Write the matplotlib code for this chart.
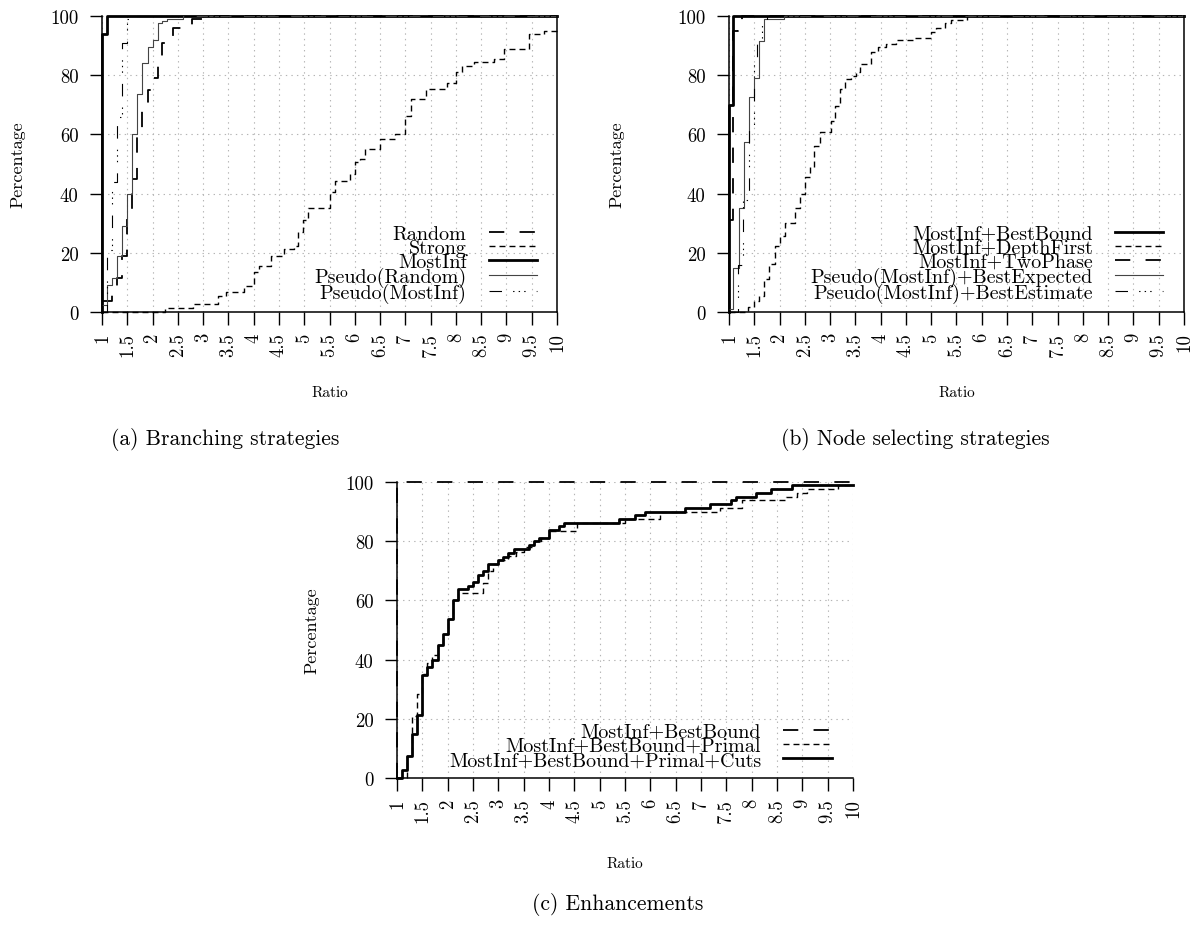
import matplotlib
matplotlib.use('Agg')
import matplotlib.pyplot as plt

plt.rcParams['font.family'] = ['cmr10', 'DejaVu Serif']
plt.rcParams['axes.formatter.use_mathtext'] = True
plt.rcParams['lines.scale_dashes'] = False
plt.rcParams['mathtext.fontset'] = 'cm'

# ---------------- data ----------------
x_ticks = [1, 1.5, 2, 2.5, 3, 3.5, 4, 4.5, 5, 5.5, 6, 6.5, 7, 7.5, 8, 8.5, 9, 9.5, 10]
x_tick_labels = ['1', '1.5', '2', '2.5', '3', '3.5', '4', '4.5', '5', '5.5',
                 '6', '6.5', '7', '7.5', '8', '8.5', '9', '9.5', '10']
y_ticks = [0, 20, 40, 60, 80, 100]
y_tick_labels = ['0', '20', '40', '60', '80', '100']

# (a) Branching strategies
a_random_x = [1.0, 1.19, 1.29, 1.39, 1.5, 1.6, 1.69, 1.79, 1.9, 2.0, 2.1, 2.19, 2.3, 2.4, 2.78, 3.2, 10]
a_random_y = [3.8, 7.5, 11.5, 19, 33, 45, 62, 70, 75, 79, 84, 91, 93, 96, 98.9, 100, 100]
a_strong_x = [1.0, 2.25, 2.8, 3.3, 3.45, 3.8, 4.0, 4.1, 4.35, 4.6, 4.8, 4.88, 4.97, 5.08, 5.5, 5.6,
              5.9, 6.0, 6.1, 6.2, 6.5, 6.8, 7.0, 7.12, 7.4, 7.82, 8.0, 8.12, 8.35, 8.75, 8.95,
              9.45, 9.75, 10]
a_strong_y = [0, 1.2, 2.7, 5.5, 6.6, 8.7, 13.4, 15.6, 19, 21.3, 22.4, 27, 31, 35, 40.4, 44.4,
              46.6, 50.6, 51.8, 55, 58.4, 60.1, 66.3, 72, 75.3, 77.5, 81, 83.2, 84.3, 85.5, 88.9,
              93.9, 95, 95]
a_mostinf_x = [1.0, 1.0, 1.1, 10]
a_mostinf_y = [0, 94, 100, 100]
a_pseudo_rand_x = [1.0, 1.09, 1.19, 1.29, 1.39, 1.5, 1.59, 1.69, 1.79, 1.9, 2.0, 2.1, 2.19, 2.29, 2.6, 10]
a_pseudo_rand_y = [2.5, 9, 11.5, 19, 29, 40, 60, 73.5, 84, 89.5, 92, 97.5, 98.4, 99, 100, 100]
a_pseudo_mi_x = [1.0, 1.09, 1.19, 1.29, 1.39, 1.5, 1.62, 10]
a_pseudo_mi_y = [0, 21, 44, 66, 91, 99, 100, 100]

# (b) Node selecting strategies
b_bestbound_x = [1.0, 1.0, 1.08, 10]
b_bestbound_y = [0, 70, 100, 100]
b_depth_x = [1.0, 1.38, 1.5, 1.6, 1.7, 1.79, 1.9, 2.0, 2.1, 2.3, 2.4, 2.5, 2.6, 2.69, 2.8, 3.02,
             3.1, 3.19, 3.29, 3.42, 3.52, 3.6, 3.8, 3.95, 4.1, 4.3, 4.65, 5.0, 5.1, 5.27, 5.4,
             5.7, 10]
b_depth_y = [0, 1.6, 3.8, 5.4, 11, 16.2, 22.4, 25.8, 30, 35, 40, 45.5, 48.9, 56, 60.7, 64.6,
             69.7, 75.3, 78.7, 79.8, 81.2, 83.8, 87.7, 89.4, 90.5, 91.9, 92.7, 94.5, 96, 97.6,
             98.8, 100, 100]
b_twophase_x = [1.0, 1.08, 1.18, 1.25, 10]
b_twophase_y = [31, 95, 98, 100, 100]
b_expected_x = [1.0, 1.08, 1.19, 1.29, 1.39, 1.49, 1.59, 1.69, 2.09, 10]
b_expected_y = [1, 15, 35, 57.5, 72.5, 79, 91.5, 99, 100, 100]
b_estimate_x = [1.0, 1.18, 1.28, 1.39, 1.49, 1.55, 1.65, 1.76, 10]
b_estimate_y = [0, 16, 38, 62, 84, 92, 97, 100, 100]

# (c) Enhancements
c_bb_x = [1.0, 1.0, 10]
c_bb_y = [0, 100, 100]
c_primal_x = [1.0, 1.2, 1.29, 1.39, 1.5, 1.6, 1.7, 1.8, 1.9, 2.0, 2.1, 2.2, 2.7, 2.8, 2.9, 3.0,
              3.2, 3.35, 3.5, 3.7, 3.85, 4.0, 4.55, 5.5, 5.85, 6.2, 7.38, 7.8, 8.67, 8.9, 9.1,
              9.7, 10]
c_primal_y = [0, 7.6, 21, 28.5, 35, 39, 41.5, 45, 48.8, 53.8, 60, 62.5, 66, 70, 72.4, 73.5,
              75, 76.5, 78, 80, 81.2, 83.4, 86.2, 87.4, 87.6, 90, 91.2, 93.8, 94.9, 96.3, 97.5,
              99, 99]
c_cuts_x = [1.0, 1.1, 1.2, 1.29, 1.39, 1.5, 1.6, 1.7, 1.8, 1.9, 2.0, 2.1, 2.2, 2.4, 2.5, 2.6,
            2.7, 2.8, 3.0, 3.1, 3.2, 3.3, 3.6, 3.7, 3.8, 4.0, 4.2, 4.3, 5.39, 5.7, 5.9, 6.69,
            7.18, 7.59, 7.69, 8.09, 8.38, 8.79, 10]
c_cuts_y = [0, 2.6, 7.6, 15, 21.2, 34.9, 37.5, 40, 45, 48.8, 53.8, 60, 64, 65, 66.2, 68.7,
            70.1, 72.4, 73.5, 74.7, 76.1, 77.5, 78.6, 80.1, 81.2, 83.7, 85.1, 86.2, 87.4, 88.7,
            89.9, 91.2, 92.7, 93.8, 94.9, 96.4, 97.5, 98.9, 98.9]

# ---------------- styles ----------------
LONG = (0, (11, 11))
SHORT = (0, (4.3, 2.9))
DASHDOT = (0, (9, 8, 1, 3, 1, 3, 1, 8))
THICK = 2.0
MED = 1.3
THIN = 0.8
GREY = '#444444'

TICK_FS = 13.5
LEG_FS = 14.5
YLAB_FS = 13
XLAB_FS = 11
CAP_FS = 15.5

W, H = 1191, 928
fig = plt.figure(figsize=(W / 100, H / 100), dpi=100)


def make_axes(left, top, right, bottom, right_spine=True):
    ax = fig.add_axes([left / W, 1 - bottom / H, (right - left) / W, (bottom - top) / H])
    ax.set_xlim(1, 10)
    ax.set_ylim(0, 100)
    ax.set_xticks(x_ticks)
    ax.set_xticklabels(x_tick_labels, rotation=90, fontsize=TICK_FS)
    ax.set_yticks(y_ticks)
    ax.set_yticklabels(y_tick_labels, fontsize=TICK_FS)
    ax.tick_params(direction='out', length=9, width=1.0)
    ax.tick_params(axis='x', pad=5.5)
    ax.tick_params(axis='y', pad=8)
    ax.grid(True, color='#b5b5b5', linestyle=(0, (1, 3)), linewidth=0.8)
    ax.set_axisbelow(True)
    ax.spines['top'].set_visible(False)
    ax.spines['right'].set_visible(right_spine)
    for s in ax.spines.values():
        s.set_linewidth(1.1)
    ax.set_xlabel('Ratio', fontsize=XLAB_FS)
    ax.set_ylabel('Percentage', fontsize=YLAB_FS)
    return ax


def step(ax, x, y, label, ls, lw, color='black'):
    ax.step(x, y, where='post', linestyle=ls, linewidth=lw, color=color,
            label=label, clip_on=False)


def legend(ax, ax_x, ax_y):
    ax.legend(loc='lower right', bbox_to_anchor=(ax_x, ax_y), frameon=False,
              markerfirst=False, fontsize=LEG_FS, handlelength=2.4,
              handletextpad=1.1, labelspacing=-0.2, borderpad=0, borderaxespad=0)


# (a)
axa = make_axes(102, 17, 557, 313)
step(axa, a_random_x, a_random_y, 'Random', LONG, MED)
step(axa, a_strong_x, a_strong_y, 'Strong', SHORT, 1.0)
step(axa, a_mostinf_x, a_mostinf_y, 'MostInf', '-', THICK)
step(axa, a_pseudo_rand_x, a_pseudo_rand_y, 'Pseudo(Random)', '-', THIN, GREY)
step(axa, a_pseudo_mi_x, a_pseudo_mi_y, 'Pseudo(MostInf)', DASHDOT, THIN)
axa.yaxis.set_label_coords(-0.168, 0.5)
axa.xaxis.set_label_coords(0.5, -0.247)
legend(axa, 0.956, 0.03)

# (b)
axb = make_axes(729, 17, 1184, 313)
step(axb, b_bestbound_x, b_bestbound_y, 'MostInf+BestBound', '-', THICK)
step(axb, b_depth_x, b_depth_y, 'MostInf+DepthFirst', SHORT, 1.0)
step(axb, b_twophase_x, b_twophase_y, 'MostInf+TwoPhase', LONG, MED)
step(axb, b_expected_x, b_expected_y, 'Pseudo(MostInf)+BestExpected', '-', THIN, GREY)
step(axb, b_estimate_x, b_estimate_y, 'Pseudo(MostInf)+BestEstimate', DASHDOT, THIN)
axb.yaxis.set_label_coords(-0.230, 0.5)
axb.xaxis.set_label_coords(0.5, -0.247)
legend(axb, 0.954, 0.03)

# (c)
axc = make_axes(397, 483, 853, 779, right_spine=False)
step(axc, c_bb_x, c_bb_y, 'MostInf+BestBound', LONG, MED)
step(axc, c_primal_x, c_primal_y, 'MostInf+BestBound+Primal', SHORT, 1.0)
step(axc, c_cuts_x, c_cuts_y, 'MostInf+BestBound+Primal+Cuts', '-', THICK)
axc.yaxis.set_label_coords(-0.171, 0.5)
axc.xaxis.set_label_coords(0.5, -0.264)
legend(axc, 0.953, 0.03)

fig.text(225 / W, 1 - 440 / H, '(a) Branching strategies', ha='center', va='center', fontsize=CAP_FS)
fig.text(915 / W, 1 - 440 / H, '(b) Node selecting strategies', ha='center', va='center', fontsize=CAP_FS)
fig.text(618 / W, 1 - 905 / H, '(c) Enhancements', ha='center', va='center', fontsize=CAP_FS)

fig.savefig('out.png', dpi=100)
